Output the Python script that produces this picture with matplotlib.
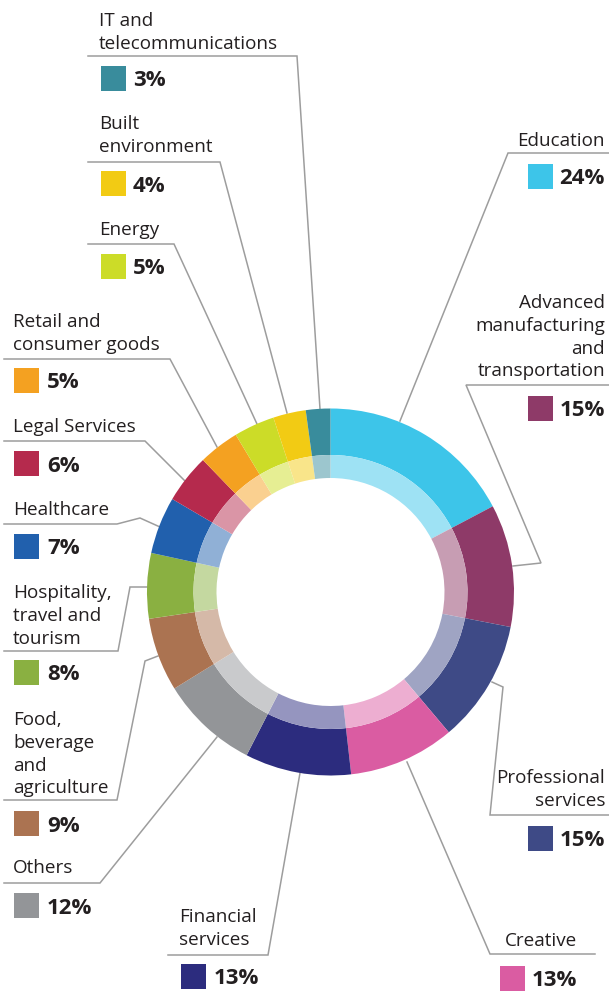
import matplotlib
matplotlib.use("Agg")
import matplotlib.pyplot as plt
from matplotlib.colors import to_rgb

# Sector shares (clockwise from 12 o'clock)
sectors = ["Education", "Advanced\nmanufacturing\nand\ntransportation",
           "Professional\nservices", "Creative", "Financial\nservices", "Others",
           "Food,\nbeverage\nand\nagriculture", "Hospitality,\ntravel and\ntourism",
           "Healthcare", "Legal Services", "Retail and\nconsumer goods", "Energy",
           "Built\nenvironment", "IT and\ntelecommunications"]
shares = [24, 15, 15, 13, 13, 12, 9, 8, 7, 6, 5, 5, 4, 3]
colours = ["#3dc5e9", "#8e3a68", "#3e4a86", "#da5ca2", "#2c2c7e", "#939598",
           "#ab7351", "#8ab041", "#2160ad", "#b52a4d", "#f4a121", "#ccdc28",
           "#f2cb14", "#398c9c"]

W, H = 609, 991
TXT = "#231f20"
LINE = "#9d9d9d"

# label block layout in pixels (y measured from top):
# align, text x, first baseline, pct x, square x, square top, leader polyline
layout = [
    ("right", 605, 146, 605, 528, 164, [(609, 153), (508, 153), (400, 421)]),
    ("right", 605, 308, 605, 528, 396, [(609, 385), (466, 385), (541, 563), (513, 566)]),
    ("right", 605, 783, 605, 528, 826, [(609, 815), (490, 815), (503, 687), (492, 682)]),
    ("right", 577, 946, 577, 500, 966, [(595, 954), (490, 954), (407, 762)]),
    ("left", 179, 922, 214, 181, 964, [(168, 955), (268, 955), (300, 773)]),
    ("left", 13, 873, 47, 14, 893, [(4, 883), (100, 883), (217, 737)]),
    ("left", 13, 725, 47, 14, 811, [(4, 800), (117, 800), (145, 661), (158, 656)]),
    ("left", 13, 598, 47, 14, 660, [(4, 651), (118, 651), (130, 587), (148, 587)]),
    ("left", 13, 515, 47, 14, 534, [(4, 524), (117, 524), (140, 518), (160, 527)]),
    ("left", 13, 432, 47, 14, 451, [(4, 441), (145, 441), (185, 481)]),
    ("left", 13, 327, 47, 14, 368, [(4, 359), (170, 359), (217, 447)]),
    ("left", 99, 235, 133, 101, 254, [(88, 244), (174, 244), (257, 424)]),
    ("left", 99, 129, 133, 101, 171, [(88, 162), (220, 162), (287, 413)]),
    ("left", 99, 26, 133, 101, 66, [(88, 56), (297, 56), (320, 409)]),
]

plt.rcParams["font.family"] = ["Open Sans", "DejaVu Sans"]

fig = plt.figure(figsize=(W / 100, H / 100), dpi=100)
ax = fig.add_axes([0, 0, 1, 1])

cx, cy = 330.5, H - 592
r_out, r_mid, r_in = 183.5, 137, 114


def lighten(c, amt=0.5):
    r, g, b = to_rgb(c)
    return (r + (1 - r) * amt, g + (1 - g) * amt, b + (1 - b) * amt)


ax.pie(shares, radius=r_out, center=(cx, cy), startangle=90, counterclock=False,
       colors=colours, wedgeprops=dict(width=r_out - r_mid, linewidth=0))
ax.pie(shares, radius=r_mid, center=(cx, cy), startangle=90, counterclock=False,
       colors=[lighten(c) for c in colours],
       wedgeprops=dict(width=r_mid - r_in, linewidth=0))

for name, val, col, (ha, tx, base, px, sx, sy, pts) in zip(sectors, shares, colours, layout):
    xs = [p[0] for p in pts]
    ys = [H - p[1] for p in pts]
    ax.plot(xs, ys, color=LINE, lw=1.1, zorder=0, solid_joinstyle="miter")
    for i, line in enumerate(name.split("\n")):
        ax.text(tx, H - (base + i * 22.8), line, ha=ha, va="baseline",
                fontsize=13.6, color=TXT)
    ax.add_patch(plt.Rectangle((sx, H - sy - 25), 25, 25, color=col, lw=0))
    ax.text(px, H - sy - 12.5, f"{val}%", ha=ha, va="center_baseline",
            fontsize=16, fontweight="bold", color=TXT)

ax.set_xlim(0, W)
ax.set_ylim(0, H)
ax.set_aspect("equal")
ax.axis("off")

fig.savefig("out.png", dpi=100)
